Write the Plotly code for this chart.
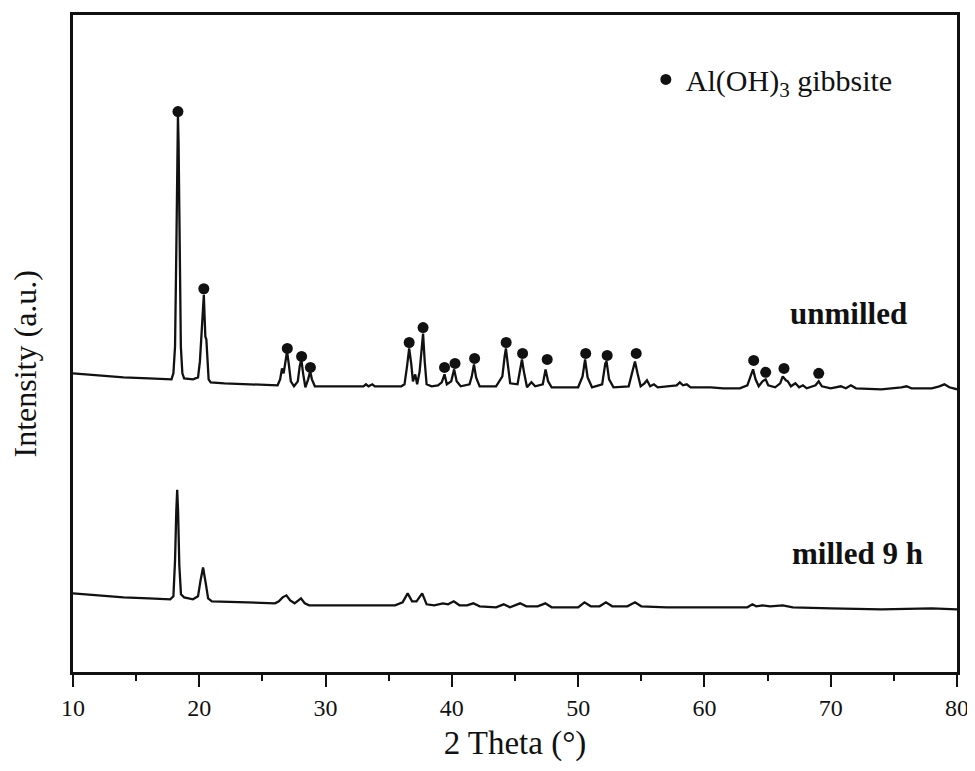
import plotly.graph_objects as go

# XRD patterns (2 theta in degrees, intensity in arbitrary units)
unmilled_2theta = [
    10.0, 12.0, 14.0, 16.0, 17.6, 17.8, 17.95, 18.08, 18.18, 18.26, 18.31, 18.36, 18.44, 18.54,
    18.66, 18.8, 19.5, 19.9, 20.05, 20.2, 20.3, 20.36, 20.42, 20.48, 20.56, 20.64, 20.74, 20.9,
    22.0, 24.0, 26.2, 26.4, 26.55, 26.68, 26.82, 26.95, 27.08, 27.25, 27.5, 27.8, 27.95, 28.08,
    28.22, 28.4, 28.62, 28.78, 28.92, 29.15, 31.0, 33.0, 33.2, 33.4, 33.7, 33.9, 36.0, 36.25,
    36.45, 36.62, 36.78, 36.92, 37.1, 37.25, 37.45, 37.62, 37.72, 37.85, 38.0, 38.4, 38.9, 39.2,
    39.42, 39.6, 39.95, 40.18, 40.38, 40.7, 41.4, 41.58, 41.75, 41.92, 42.2, 43.5, 44.0, 44.18,
    44.28, 44.42, 44.62, 45.2, 45.42, 45.55, 45.7, 45.95, 46.3, 46.6, 47.2, 47.42, 47.62, 47.9,
    50.0, 50.35, 50.55, 50.75, 51.1, 51.9, 52.15, 52.25, 52.45, 52.8, 54.0, 54.3, 54.5, 54.7,
    54.95, 55.25, 55.45, 55.7, 56.0, 56.3, 57.8, 58.05, 58.3, 58.6, 58.9, 60.5, 61.5, 62.8,
    63.4, 63.65, 63.85, 64.05, 64.3, 64.6, 64.85, 65.05, 65.6, 66.0, 66.2, 66.45, 66.6, 66.85,
    67.2, 67.5, 67.8, 68.1, 68.8, 69.05, 69.3, 70.0, 70.8, 71.2, 71.6, 72.0, 74.0, 75.6,
    76.0, 76.4, 78.0, 78.6, 79.0, 79.4, 80.0,
]
unmilled_intensity = [
    300, 298, 296, 295, 294, 294, 300, 327, 422, 532, 559, 532, 422, 327,
    300, 295, 294, 296, 312, 342, 372, 379, 357, 337, 334, 312, 294, 291,
    290, 289, 288, 294, 305, 300, 314, 322, 310, 292, 287, 292, 307, 314,
    300, 286, 294, 302, 294, 287, 287, 287, 289, 287, 289, 287, 287, 289,
    307, 325, 310, 292, 299, 289, 302, 332, 340, 312, 289, 287, 288, 291,
    299, 289, 292, 304, 292, 287, 289, 297, 309, 296, 287, 287, 297, 317,
    325, 310, 290, 289, 307, 314, 302, 286, 291, 287, 289, 304, 292, 286,
    286, 297, 314, 296, 286, 289, 310, 312, 294, 286, 287, 302, 312, 300,
    287, 290, 293, 287, 289, 286, 288, 291, 288, 289, 286, 286, 285, 285,
    288, 297, 304, 294, 287, 292, 294, 288, 286, 290, 297, 293, 292, 287,
    290, 286, 288, 285, 288, 292, 287, 285, 287, 285, 288, 285, 284, 286,
    287, 285, 285, 287, 289, 286, 284,
]

milled_2theta = [
    10.0, 12.0, 14.0, 16.0, 17.7, 17.95, 18.08, 18.18, 18.25, 18.32, 18.42, 18.55, 18.8, 19.5,
    19.9, 20.1, 20.3, 20.5, 20.7, 21.0, 23.0, 26.0, 26.3, 26.6, 26.9, 27.2, 27.55, 27.8,
    28.05, 28.35, 28.7, 32.0, 35.5, 36.1, 36.5, 36.85, 37.2, 37.65, 38.0, 38.6, 39.3, 39.7,
    40.15, 40.6, 41.2, 41.7, 42.2, 43.5, 44.1, 44.6, 45.4, 45.9, 46.8, 47.4, 47.9, 50.0,
    50.5, 51.0, 51.7, 52.2, 52.7, 53.9, 54.5, 55.0, 57.0, 60.0, 63.4, 63.8, 64.1, 64.6,
    65.2, 66.2, 67.0, 70.0, 74.0, 78.0, 80.0,
]
milled_intensity = [
    79, 77, 75, 74, 73, 76, 112, 162, 183, 162, 107, 78, 75, 73,
    76, 92, 105, 90, 74, 71, 70, 69, 71, 75, 77, 72, 69, 72,
    74, 69, 67, 67, 67, 70, 79, 71, 71, 79, 68, 67, 69, 68,
    71, 67, 67, 69, 66, 65, 68, 65, 69, 66, 66, 69, 65, 65,
    70, 66, 66, 70, 66, 66, 70, 66, 65, 65, 65, 68, 66, 67,
    66, 67, 65, 64, 63, 64, 63,
]

# gibbsite reflections marked with dots on the unmilled pattern
gibbsite_2theta = [18.31, 20.36, 26.97, 28.1, 28.8, 36.62, 37.72, 39.42, 40.25, 41.8,
                   44.3, 45.6, 47.55, 50.6, 52.3, 54.6, 63.9, 64.85, 66.3, 69.05]
gibbsite_marker_y = [563, 385, 325, 317, 306, 331, 346, 306, 310, 315,
                     331, 320, 314, 320, 318, 320, 313, 301, 305, 300]

x_ticks = [10, 20, 30, 40, 50, 60, 70, 80]

SERIF = "Liberation Serif, Times New Roman, serif"
INK = "#111111"

fig = go.Figure()

fig.add_trace(go.Scatter(
    x=unmilled_2theta, y=unmilled_intensity, mode="lines",
    line=dict(color=INK, width=2.3), showlegend=False, hoverinfo="skip",
))
fig.add_trace(go.Scatter(
    x=milled_2theta, y=milled_intensity, mode="lines",
    line=dict(color=INK, width=2.3), showlegend=False, hoverinfo="skip",
))
fig.add_trace(go.Scatter(
    x=gibbsite_2theta, y=gibbsite_marker_y, mode="markers",
    marker=dict(color=INK, size=11),
    name="Al(OH)<sub>3</sub> gibbsite",
))

fig.add_annotation(x=71.4, y=360, text="<b>unmilled</b>", showarrow=False,
                   font=dict(family=SERIF, size=31, color=INK))
fig.add_annotation(x=72.1, y=119, text="<b>milled 9 h</b>", showarrow=False,
                   font=dict(family=SERIF, size=31, color=INK))
fig.add_annotation(x=-0.054, y=0.47, xref="paper", yref="paper", text="Intensity (a.u.)",
                   textangle=-90, showarrow=False, xanchor="center", yanchor="middle",
                   font=dict(family=SERIF, size=32, color=INK))

fig.update_xaxes(
    range=[10, 80], tickvals=x_ticks, ticks="outside", ticklen=12, tickwidth=2,
    tickcolor=INK, showline=True, linewidth=2.5, linecolor=INK, mirror=True,
    showgrid=False, zeroline=False,
    minor=dict(dtick=5, ticks="outside", ticklen=6, tickwidth=2, tickcolor=INK),
    tickfont=dict(family=SERIF, size=24, color=INK),
    title=dict(text="2 Theta (°)", font=dict(family=SERIF, size=33, color=INK), standoff=12),
)
fig.update_yaxes(
    range=[0, 660], showticklabels=False, ticks="", showline=True, linewidth=2.5,
    linecolor=INK, mirror=True, showgrid=False, zeroline=False,
)

# the page body adds an 8px margin on the top/left, so the figure is shifted by it
fig.update_layout(
    width=967, height=763,
    margin=dict(l=65, r=18, t=4, b=99),
    paper_bgcolor="white", plot_bgcolor="white",
    legend=dict(x=0.648, y=0.902, xanchor="left", yanchor="middle",
                bgcolor="rgba(0,0,0,0)",
                font=dict(family=SERIF, size=30, color=INK)),
)

fig.write_html("out.html")
